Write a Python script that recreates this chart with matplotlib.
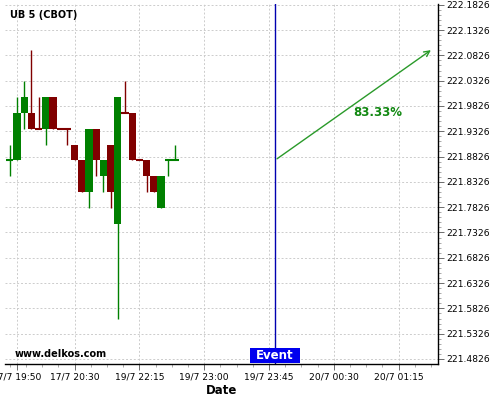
import numpy as np
import matplotlib
matplotlib.use('Agg')
import matplotlib.pyplot as plt
from matplotlib.patches import Rectangle
from matplotlib.ticker import FixedLocator, AutoMinorLocator, FormatStrFormatter
from matplotlib.transforms import blended_transform_factory

# 5-minute candles, prices in 1/32 steps
opens = [221.875, 221.875, 221.96875, 221.96875, 221.9375, 221.9375, 222.0, 221.9375,
         221.9375, 221.90625, 221.875, 221.8125, 221.9375, 221.84375, 221.90625, 221.75,
         221.96875, 221.96875, 221.875, 221.875, 221.84375, 221.78125, 221.875, 221.875]
highs = [221.90625, 222.0, 222.03125, 222.09375, 222.0, 222.0, 222.0, 221.9375,
         221.9375, 221.90625, 221.875, 221.9375, 221.9375, 221.875, 221.90625, 222.0,
         222.03125, 221.96875, 221.875, 221.875, 221.84375, 221.84375, 221.875, 221.90625]
lows = [221.84375, 221.875, 221.9375, 221.9375, 221.9375, 221.90625, 221.9375, 221.9375,
        221.90625, 221.875, 221.8125, 221.78125, 221.84375, 221.8125, 221.78125, 221.5625,
        221.96875, 221.875, 221.875, 221.8125, 221.8125, 221.78125, 221.84375, 221.875]
closes = [221.875, 221.96875, 222.0, 221.9375, 221.9375, 222.0, 221.9375, 221.9375,
          221.9375, 221.875, 221.8125, 221.9375, 221.875, 221.875, 221.8125, 222.0,
          221.96875, 221.875, 221.875, 221.84375, 221.8125, 221.84375, 221.875, 221.875]
up_flags = [1, 1, 1, 0, 0, 1, 0, 0, 0, 0, 0, 1, 0, 1, 0, 1, 0, 0, 0, 0, 0, 1, 1, 1]

tick_pos = [1, 9, 18, 27, 36, 45, 54]
tick_labels = ['17/7 19:50', '17/7 20:30', '19/7 22:15', '19/7 23:00',
               '19/7 23:45', '20/7 00:30', '20/7 01:15']
y_ticks = [221.4826 + 0.05 * k for k in range(15)]

event_x = 36.8
arrow_start = (36.8, 221.875)
arrow_end = (58.8, 222.096)
prob_text = '83.33%'

GREEN = '#008000'
RED = '#800000'

fig = plt.figure(figsize=(5, 4), dpi=100)
ax = fig.add_axes([0.01, 0.09, 0.866, 0.90])

for i in range(len(opens)):
    o, h, l, c = opens[i], highs[i], lows[i], closes[i]
    col = GREEN if up_flags[i] else RED
    ax.vlines(i, l, h, color=col, lw=1, zorder=3)
    if abs(c - o) < 1e-9:
        ax.hlines(o, i - 0.49, i + 0.49, color=col, lw=1.5, zorder=4)
    else:
        ax.bar(i, abs(c - o), bottom=min(o, c), width=0.98, color=col,
               edgecolor='none', zorder=4)

# event marker
ax.axvline(event_x, color='#0000b0', lw=1, zorder=2)
trans = blended_transform_factory(ax.transData, ax.transAxes)
half_w = 25 / 7.2
ax.add_patch(Rectangle((event_x - half_w, 0.003), 2 * half_w, 0.042, transform=trans,
                       facecolor='#0000ee', edgecolor='none', zorder=5))
ax.text(event_x, 0.024, 'Event', transform=trans, ha='center', va='center',
        color='white', fontsize=8.5, fontweight='bold', zorder=6)

ax.annotate('', xy=arrow_end, xytext=arrow_start,
            arrowprops=dict(arrowstyle='->', color='#2a9a2a', lw=1))
ax.text(51.1, 221.970, prob_text, ha='center', va='center', color='#118811',
        fontsize=8.5, fontweight='bold')

ax.set_xlim(-0.67, 59.47)
ax.set_ylim(221.4727, 222.184)

ax.xaxis.set_major_locator(FixedLocator(tick_pos))
ax.set_xticklabels(tick_labels)
minor_x = [18 + 2.25 * k for k in range(-8, 19)]
ax.xaxis.set_minor_locator(FixedLocator(minor_x))

ax.yaxis.tick_right()
ax.yaxis.set_major_locator(FixedLocator(y_ticks))
ax.yaxis.set_major_formatter(FormatStrFormatter('%.4f'))
ax.yaxis.set_minor_locator(AutoMinorLocator(5))

ax.tick_params(axis='both', which='major', labelsize=6.6, length=4, width=0.6,
               color='#555555', pad=2)
ax.tick_params(axis='both', which='minor', length=2, width=0.5, color='#888888')

ax.grid(True, which='major', color='#cccccc', linestyle=(0, (2, 2)), lw=0.7, zorder=0)
ax.set_axisbelow(True)

for side in ['left', 'top']:
    ax.spines[side].set_visible(False)
for side in ['right', 'bottom']:
    ax.spines[side].set_color('black')
    ax.spines[side].set_linewidth(1)

ax.set_xlabel('Date', fontsize=8.5, fontweight='bold', labelpad=2)

fig.text(0.02, 1 - 15 / 400, 'UB 5 (CBOT)', fontsize=7, fontweight='bold',
         ha='left', va='center')
fig.text(0.03, 1 - 354 / 400, 'www.delkos.com', fontsize=7, fontweight='bold',
         ha='left', va='center')

fig.savefig('out.png', dpi=100)
